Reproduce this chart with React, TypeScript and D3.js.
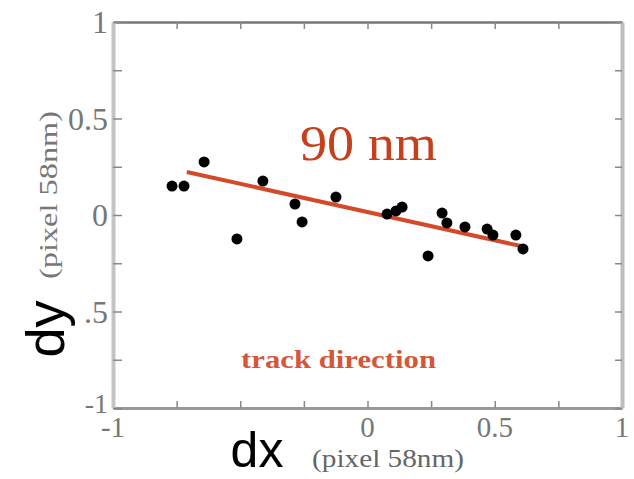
import React, { useEffect, useRef } from 'react';
import * as d3 from 'd3';

// displacement samples (pixel units, 1 px = 58 nm)
const dxValues = [-0.768, -0.721, -0.642, -0.513, -0.411, -0.285, -0.257, -0.124, 0.077, 0.112, 0.136, 0.238, 0.293, 0.312, 0.383, 0.47, 0.493, 0.583, 0.611];
const dyValues = [0.15, 0.15, 0.275, -0.124, 0.176, 0.057, -0.036, 0.093, 0.005, 0.021, 0.041, -0.212, 0.01, -0.041, -0.062, -0.073, -0.104, -0.104, -0.176];

// fitted track line endpoints
const fitX = [-0.71, 0.603];
const fitY = [0.223, -0.161];

const minorTicks = [-1, -0.75, -0.5, -0.25, 0, 0.25, 0.5, 0.75, 1];
const xTickValues = [-1, 0, 0.5, 1];
const xTickLabels = ['-1', '0', '0.5', '1'];
const yTickValues = [1, 0.5, 0, -0.5, -1];
const yTickLabels = ['1', '0.5', '0', '.5', '-1'];

const App = () => {
  const ref = useRef<SVGSVGElement>(null);

  useEffect(() => {
    const svg = d3.select(ref.current);
    svg.selectAll('*').remove();
    const width = 634;
    const height = 479;
    const left = 113, right = 622, top = 22, bottom = 408;

    const x = d3.scaleLinear().domain([-1, 1]).range([left, right]);
    const y = d3.scaleLinear().domain([-1, 1]).range([bottom, top]);

    svg.append('rect').attr('width', width).attr('height', height).attr('fill', '#fff');

    // axes with inward ticks
    const axisStyle = (g, color, w) => {
      g.select('.domain').attr('stroke', color).attr('stroke-width', w);
      g.selectAll('.tick line').attr('stroke', '#888').attr('stroke-width', 1.5);
    };
    svg.append('g').attr('transform', `translate(0,${top})`)
      .call(d3.axisTop(x).tickValues(minorTicks).tickSize(-7).tickSizeOuter(0).tickFormat(() => ''))
      .call(g => axisStyle(g, '#777', 2.5));
    svg.append('g').attr('transform', `translate(0,${bottom})`)
      .call(d3.axisBottom(x).tickValues(minorTicks).tickSize(-7).tickSizeOuter(0).tickFormat(() => ''))
      .call(g => axisStyle(g, '#999', 3));
    svg.append('g').attr('transform', `translate(${left},0)`)
      .call(d3.axisLeft(y).tickValues(minorTicks).tickSize(-9).tickSizeOuter(0).tickFormat(() => ''))
      .call(g => axisStyle(g, '#c4c4c4', 4));
    svg.append('g').attr('transform', `translate(${right},0)`)
      .call(d3.axisRight(y).tickValues(minorTicks).tickSize(-7).tickSizeOuter(0).tickFormat(() => ''))
      .call(g => axisStyle(g, '#bdbdbd', 4));

    // tick labels
    svg.append('g').selectAll('text').data(yTickValues).join('text')
      .attr('x', left - 5)
      .attr('y', d => y(d) + (d === -1 ? -5 : 0))
      .attr('dy', '0.35em')
      .attr('text-anchor', 'end')
      .attr('font-family', 'Liberation Serif, serif')
      .attr('font-size', d => (d === -1 ? 28 : 32))
      .attr('fill', '#777')
      .text((d, i) => yTickLabels[i]);
    svg.append('g').selectAll('text').data(xTickValues).join('text')
      .attr('x', d => x(d))
      .attr('y', bottom + 29)
      .attr('text-anchor', 'middle')
      .attr('font-family', 'Liberation Serif, serif')
      .attr('font-size', 29)
      .attr('fill', '#777')
      .text((d, i) => xTickLabels[i]);

    // fit line
    svg.append('line')
      .attr('x1', x(fitX[0])).attr('y1', y(fitY[0]))
      .attr('x2', x(fitX[1])).attr('y2', y(fitY[1]))
      .attr('stroke', '#d4492a')
      .attr('stroke-width', 4);

    // points
    svg.append('g').selectAll('circle').data(dxValues).join('circle')
      .attr('cx', d => x(d))
      .attr('cy', (d, i) => y(dyValues[i]))
      .attr('r', 5.5)
      .attr('fill', '#000');

    svg.append('text')
      .attr('x', 300).attr('y', 160)
      .attr('font-family', 'Liberation Serif, serif')
      .attr('font-size', 50)
      .attr('textLength', 137)
      .attr('lengthAdjust', 'spacingAndGlyphs')
      .attr('fill', '#c5401c')
      .text('90 nm');

    svg.append('text')
      .attr('x', 241).attr('y', 368)
      .attr('font-family', 'Liberation Serif, serif')
      .attr('font-weight', 'bold')
      .attr('font-size', 26)
      .attr('textLength', 195)
      .attr('lengthAdjust', 'spacingAndGlyphs')
      .attr('fill', '#d4573a')
      .text('track direction');

    // axis titles
    svg.append('text')
      .attr('x', 257).attr('y', 467)
      .attr('text-anchor', 'middle')
      .attr('font-family', 'Liberation Sans, sans-serif')
      .attr('font-size', 50)
      .attr('fill', '#000')
      .text('dx');
    svg.append('text')
      .attr('x', 388).attr('y', 467)
      .attr('text-anchor', 'middle')
      .attr('font-family', 'Liberation Serif, serif')
      .attr('font-size', 25)
      .attr('textLength', 152)
      .attr('lengthAdjust', 'spacingAndGlyphs')
      .attr('fill', '#666')
      .text('(pixel 58nm)');

    svg.append('text')
      .attr('transform', 'translate(64,329) rotate(-90)')
      .attr('text-anchor', 'middle')
      .attr('font-family', 'Liberation Sans, sans-serif')
      .attr('font-size', 54)
      .attr('fill', '#000')
      .text('dy');
    svg.append('text')
      .attr('transform', 'translate(57,195) rotate(-90)')
      .attr('text-anchor', 'middle')
      .attr('font-family', 'Liberation Serif, serif')
      .attr('font-size', 26)
      .attr('textLength', 168)
      .attr('lengthAdjust', 'spacingAndGlyphs')
      .attr('fill', '#777')
      .text('(pixel 58nm)');
  }, []);

  return (
    <svg
      ref={ref}
      width={634}
      height={479}
      style={{ position: 'absolute', left: 0, top: 0 }}
    ></svg>
  );
};

export default App;
